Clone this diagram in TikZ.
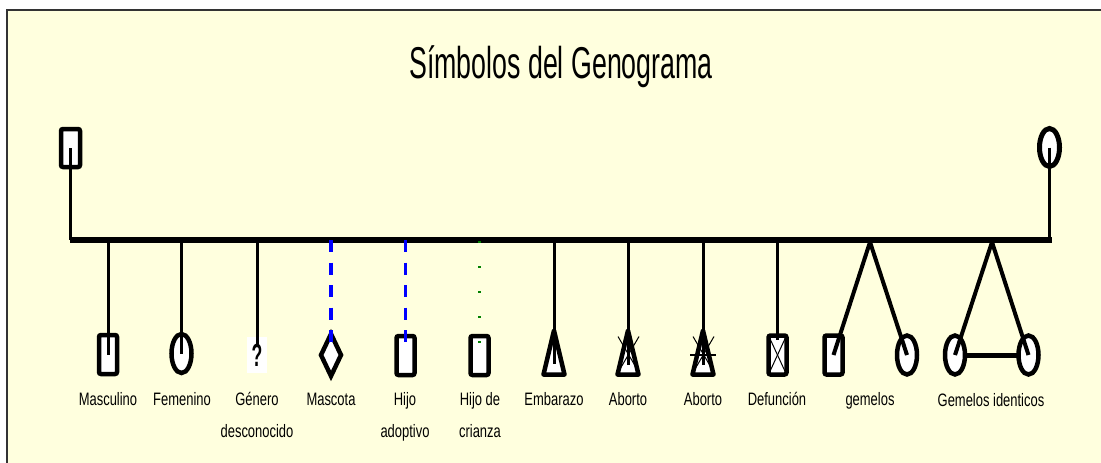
\documentclass[tikz,border=0pt]{standalone}
\usepackage{fontspec}
\setmainfont{Liberation Sans}[FakeStretch=0.72]
\newfontfamily\titulofont{Liberation Sans}[FakeStretch=0.6]
\newfontfamily\preguntafont{Liberation Sans}[FakeStretch=0.55]
\usetikzlibrary{shapes.geometric}
\definecolor{crema}{RGB}{255,255,222}
\definecolor{verdeosc}{RGB}{0,128,0}

\tikzset{
    simbolo/.style={draw=black, fill=white, line width=4.5pt, inner sep=0pt, outer sep=0pt},
    hombre/.style={simbolo, shape=rectangle, rounded corners=2pt, minimum width=18pt, minimum height=39pt},
    mujer/.style={simbolo, shape=ellipse, minimum width=20pt, minimum height=39pt},
    linea/.style={line width=3pt},
    etiqueta/.style={anchor=base, align=center, inner sep=0pt, font=\fontsize{18}{32}\selectfont},
}

\begin{document}
\begin{tikzpicture}[x=1pt, y=-1pt]
        \useasboundingbox (0,0) rectangle (1101,463);
        \fill[crema] (7,10) rectangle (1101,463);
        \draw[line width=2pt, black!80] (7,463) -- (7,10) -- (1101,10);

        \node[font=\titulofont\fontsize{44.6}{50}\selectfont, anchor=base] (T) at (561,78) {Símbolos del Genograma};

        \node[hombre, minimum width=19pt, minimum height=38pt] (P1) at (70.5,148) {};
        \node[mujer, line width=5pt, minimum height=38pt] (P2) at (1049.5,147.5) {};
        \coordinate (B1) at (69.5,240);
        \coordinate (B2) at (1051.5,240);
        \draw[linea] (P1.center) to (P1 |- B1);
        \draw[linea] (P2.center) to (P2 |- B2);
        \draw[line width=6.5pt] (B1) to (B2);

        \node[hombre] (H1) at (108,354.5) {};
        \node[mujer] (H2) at (181.5,353.5) {};
        \node[fill=white, minimum width=20pt, minimum height=36pt, inner sep=0pt,
              font=\preguntafont\bfseries\fontsize{32}{32}\selectfont] (H3) at (257,355) {?};
        \node[simbolo, shape=diamond, minimum width=20pt, minimum height=42pt] (H4) at (331,355) {};
        \node[hombre] (H5) at (405.5,355.5) {};
        \node[hombre] (H6) at (479.5,355.5) {};
        \coordinate (E1) at (554,352.5);
        \coordinate (E2) at (628,352.5);
        \coordinate (E3) at (703,352.5);
        \node[hombre] (H7) at (777.5,355) {};
        \coordinate (G0) at (870,242);
        \node[hombre] (G1) at (833.5,355) {};
        \node[mujer] (G2) at (907,355) {};
        \coordinate (G5) at (992,242);
        \node[mujer] (G3) at (955,355) {};
        \node[mujer] (G4) at (1028.5,355) {};

        \draw[simbolo, line join=round, shift={(E1)}] (0,-22) -- (10.5,22) -- (-10.5,22) -- cycle;
        \draw[simbolo, line join=round, shift={(E2)}] (0,-22) -- (10.5,22) -- (-10.5,22) -- cycle;
        \draw[simbolo, line join=round, shift={(E3)}] (0,-22) -- (10.5,22) -- (-10.5,22) -- cycle;

        \draw[linea] (H1 |- B1) to (H1.center);
        \draw[linea] (H2 |- B1) to (H2.center);
        \draw[linea] (H3 |- B1) to ([yshift=9pt]H3.center);
        \draw[blue, line width=3.5pt, dash pattern=on 12pt off 10.5pt] (H4 |- B1) to ([yshift=12pt]H4.center);
        \draw[blue, line width=3.5pt, dash pattern=on 12pt off 10.5pt] (H5 |- B1) to ([yshift=12.5pt]H5.center);
        \draw[verdeosc, line width=2.5pt, dash pattern=on 1.5pt off 23.5pt] ([yshift=-1pt]H6 |- B1) to ([yshift=12.5pt]H6.center);
        \draw[linea] (E1 |- B1) to ([yshift=-11pt]E1);
        \draw[linea] (E2 |- B1) to ([yshift=-12pt]E2);
        \draw[linea] (E3 |- B1) to ([yshift=-12pt]E3);
        \draw[linea] (H7 |- B1) to ([yshift=-4pt]H7.north);

        \draw[line width=1pt] ([shift={(-10,-16)}]E2) to ([shift={(11,20)}]E2);
        \draw[line width=1pt] ([shift={(11,-16)}]E2) to ([shift={(-10,20)}]E2);
        \draw[line width=1pt] ([shift={(-10,-16)}]E3) to ([shift={(11,20)}]E3);
        \draw[line width=1pt] ([shift={(11,-16)}]E3) to ([shift={(-10,20)}]E3);
        \draw[line width=2pt] ([shift={(-13,2.5)}]E3) to ([shift={(13,2.5)}]E3);
        \draw[line width=1pt] (H7.north west) to (H7.south east);
        \draw[line width=1pt] (H7.north east) to (H7.south west);

        \draw[line width=4pt] (G0) to (G1.center);
        \draw[line width=4pt] (G0) to (G2.center);
        \draw[line width=4pt] (G5) to (G3.center);
        \draw[line width=4pt] (G5) to (G4.center);
        \draw[line width=5pt] (G3.east) to (G4.west);

        \node[etiqueta] (L1) at (108,405) {Masculino};
        \node[etiqueta] (L2) at (182,405) {Femenino};
        \node[etiqueta] (L3) at (257,437) {Género\\desconocido};
        \node[etiqueta] (L4) at (331,405) {Mascota};
        \node[etiqueta] (L5) at (405,437) {Hijo\\adoptivo};
        \node[etiqueta] (L6) at (480,437) {Hijo de\\crianza};
        \node[etiqueta] (L7) at (554,405) {Embarazo};
        \node[etiqueta] (L8) at (628,405) {Aborto};
        \node[etiqueta] (L9) at (703,405) {Aborto};
        \node[etiqueta] (L10) at (777,405) {Defunción};
        \node[etiqueta] (L11) at (870,405) {gemelos};
        \node[etiqueta] (L12) at (991,406) {Gemelos identicos};
    \end{tikzpicture}
\end{document}
